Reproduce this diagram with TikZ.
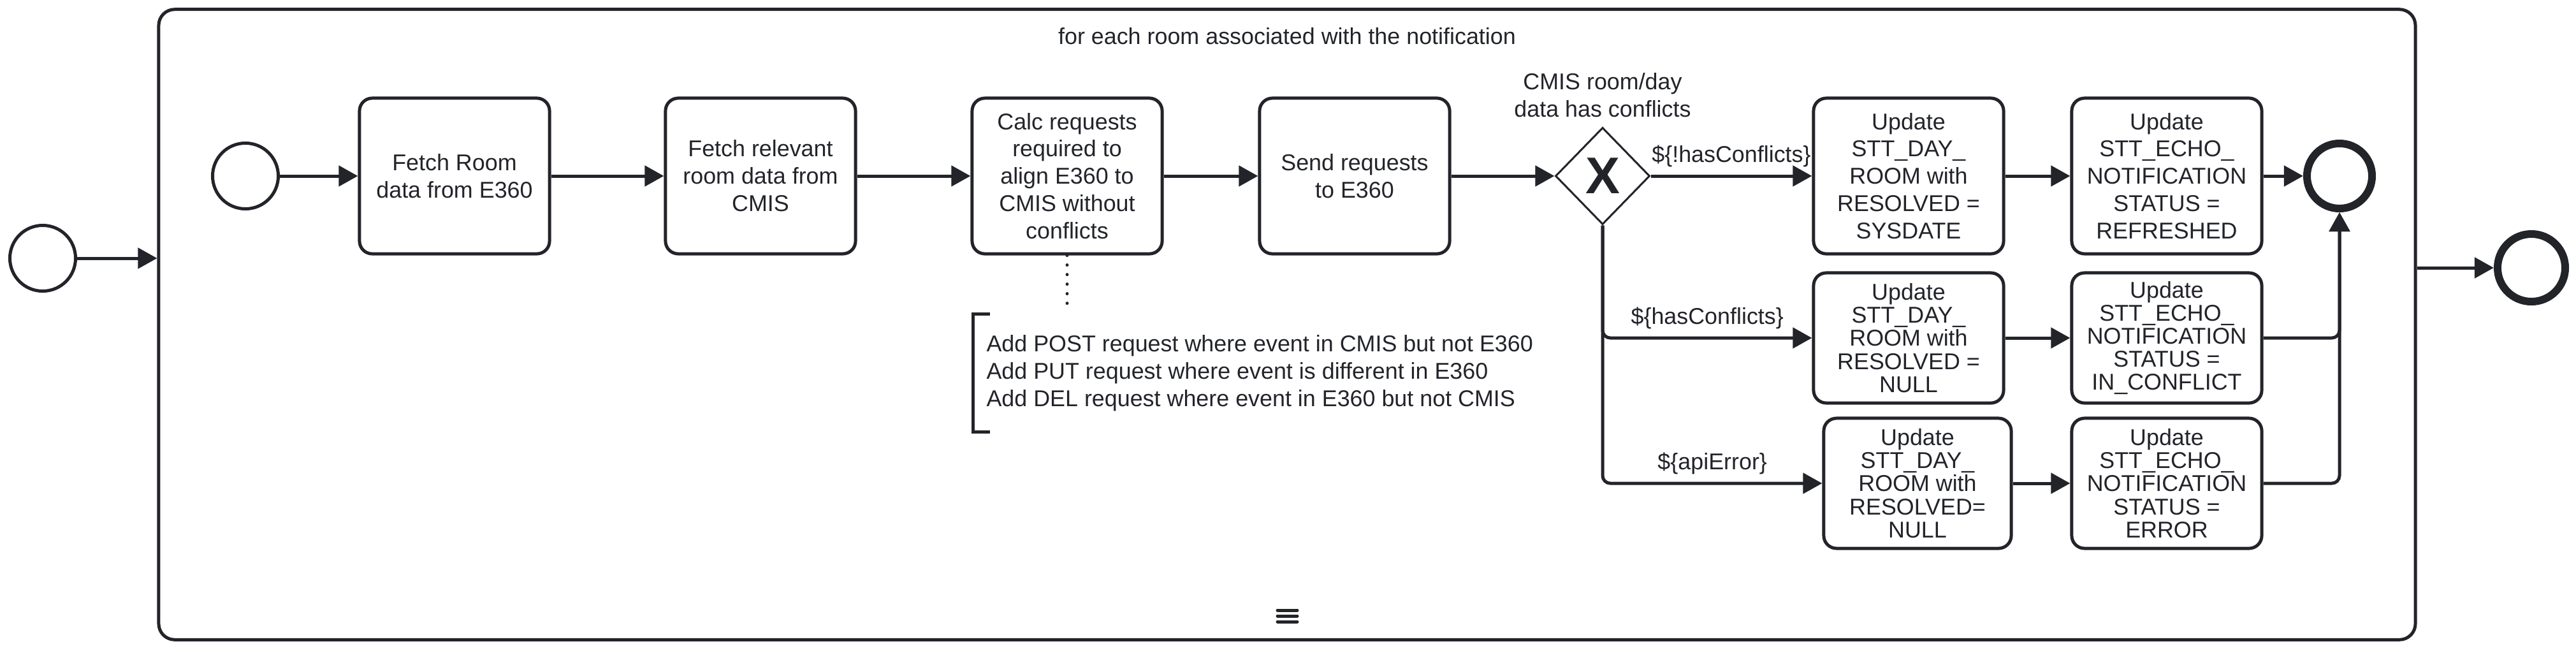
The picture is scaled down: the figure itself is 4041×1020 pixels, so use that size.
\documentclass[tikz,border=0pt]{standalone}
\usepackage{fontspec}
\setmainfont{Liberation Sans}
\usetikzlibrary{arrows.meta,shapes.geometric}
\definecolor{ink}{RGB}{34,36,42}
\begin{document}
\begin{tikzpicture}[x=0.01cm,y=-0.01cm,color=ink,line width=0.05cm,
    >={Triangle[length=0.3cm,width=0.32cm]},
    font=\fontsize{10.2}{12.2}\selectfont,
    task/.style={draw,rounded corners=0.2cm,align=center,inner sep=0pt,
        minimum width=2.98cm,minimum height=2.44cm},
    lowtask/.style={task,minimum height=2.04cm,font=\fontsize{10.2}{10.3}\selectfont},
    startev/.style={draw,circle,inner sep=0pt,minimum size=1.03cm},
    endev/.style={draw,circle,inner sep=0pt,line width=0.12cm,minimum size=1.02cm},
    xgate/.style={draw,diamond,aspect=1,inner sep=0pt,line width=0.03cm,
        minimum width=1.48cm,minimum height=1.52cm,
        font=\fontsize{23}{23}\bfseries\selectfont},
    assoc/.style={line cap=round,dash pattern=on 0pt off 0.15cm}]
    \useasboundingbox (0,0) rectangle (4041,1020);
    % outer level
    \node[startev] (s0) at (67,405) {};
    \node[draw,rounded corners=0.25cm,minimum width=35.38cm,minimum height=9.88cm,
        inner sep=0pt] (loop) at (2019,509) {};
    \node[endev,minimum size=1.06cm] (e0) at (3971,420) {};
    \node (title) at (2019,57) {for each room associated with the notification};
    \foreach \y in {957,966,975}
        \draw[line cap=round] (2004,\y)--(2035,\y);
    \draw[->] (s0)--(s0 -| loop.west);
    \draw[->] (loop.east |- e0)--(e0);
    % inside the loop
    \path
    (385,276) node[startev] (s1) {}
    (713,276) node[task] (t1) {Fetch Room\\data from E360}
    (1193,276) node[task] (t2) {Fetch relevant\\room data from\\CMIS}
    (1674,276) node[task] (t3) {Calc requests\\required to\\align E360 to\\CMIS without\\conflicts}
    (2125,276) node[task] (t4) {Send requests\\to E360}
    (2514,276) node[xgate] (gw) {X}
    (2514,149) node[align=center] (gwlabel) {CMIS room/day\\data has conflicts}
    (2994,276) node[task] (t5) {Update\\STT\_DAY\_\\ROOM with\\RESOLVED =\\SYSDATE}
    (3399,276) node[task] (t6) {Update\\STT\_ECHO\_\\NOTIFICATION\\STATUS =\\REFRESHED}
    (3670,276) node[endev] (e1) {}
    (2994,530) node[lowtask] (t7) {Update\\STT\_DAY\_\\ROOM with\\RESOLVED =\\NULL}
    (3399,530) node[lowtask] (t8) {Update\\STT\_ECHO\_\\NOTIFICATION\\STATUS =\\IN\_CONFLICT}
    (3008,758) node[lowtask,minimum width=2.94cm] (t9) {Update\\STT\_DAY\_\\ROOM with\\RESOLVED=\\NULL}
    (3399,758) node[lowtask] (t10) {Update\\STT\_ECHO\_\\NOTIFICATION\\STATUS =\\ERROR}
    ;
    \foreach \a/\b in {s1/t1,t1/t2,t2/t3,t3/t4,t4/gw,t5/t6,t6/e1,t7/t8,t9/t10}
        \draw[->] (\a)--(\b);
    \draw[->] (gw)--node[above]{\$\{!hasConflicts\}} (t5);
    \draw[->,rounded corners=0.12cm] (gw) |- node[pos=0.75,above]{\$\{hasConflicts\}} (t7);
    \draw[->,rounded corners=0.12cm] (gw) |- node[pos=0.75,above]{\$\{apiError\}} (t9);
    \draw[->,rounded corners=0.12cm] (t8) -| (e1);
    \draw[->,rounded corners=0.12cm] (t10) -| (e1);
    % annotation
    \node[anchor=west,align=left,inner xsep=0.19cm,inner ysep=0pt,minimum height=1.8cm]
        (note) at (1526,585) {Add POST request where event in CMIS but not E360\\
        Add PUT request where event is different in E360\\
        Add DEL request where event in E360 but not CMIS};
    \draw ([xshift=0.27cm]note.north west)--(note.north west)
        --(note.south west)--([xshift=0.27cm]note.south west);
    \coordinate (a1) at (1674,480);
    \draw[assoc] (t3)--(a1);
\end{tikzpicture}
\end{document}
